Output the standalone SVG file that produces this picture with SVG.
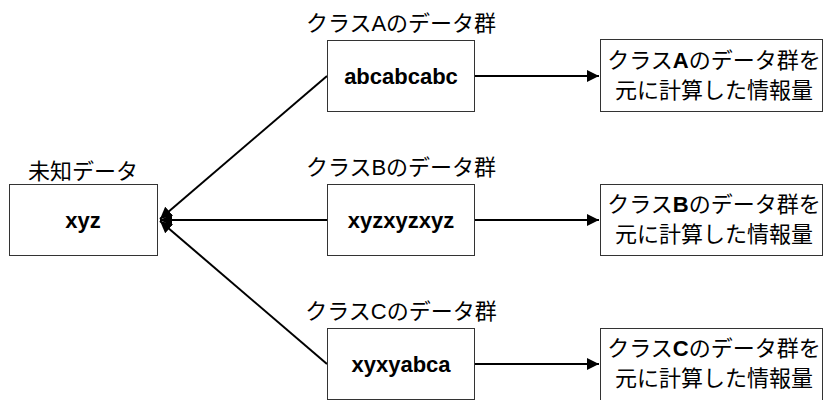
<svg xmlns="http://www.w3.org/2000/svg" width="823" height="400" viewBox="0 0 823 400">
<style>
.box{fill:#fff;stroke:#333;stroke-width:1}
.lbl{font-family:"Liberation Sans","Noto Sans CJK JP",sans-serif;font-size:22px;fill:#000;text-anchor:middle}
.val{font-family:"Liberation Sans","Noto Sans CJK JP",sans-serif;font-size:22px;font-weight:bold;fill:#000;text-anchor:middle}
.res{font-family:"Liberation Sans","Noto Sans CJK JP",sans-serif;font-size:22px;fill:#000;text-anchor:middle}
.edge{stroke:#000;stroke-width:2;fill:none}
</style>
<defs>
<marker id="ah" viewBox="0 0 10 10" refX="10" refY="5" markerWidth="6" markerHeight="6" orient="auto" markerUnits="strokeWidth">
<path d="M0,0 L10,5 L0,10 z" fill="#000"/>
</marker>
</defs>
<rect width="823" height="400" fill="#fff"/>
<g id="connectors">
<line class="edge" x1="327" y1="76" x2="160" y2="219" marker-end="url(#ah)"/>
<line class="edge" x1="327" y1="220" x2="160" y2="220" marker-end="url(#ah)"/>
<line class="edge" x1="327" y1="364" x2="160" y2="221" marker-end="url(#ah)"/>
<line class="edge" x1="475" y1="76" x2="599" y2="76" marker-end="url(#ah)"/>
<line class="edge" x1="475" y1="220" x2="599" y2="220" marker-end="url(#ah)"/>
<line class="edge" x1="475" y1="364" x2="599" y2="364" marker-end="url(#ah)"/>
</g>
<g id="unknown">
<text class="lbl" x="83" y="179">未知データ</text>
<rect class="box" x="9.5" y="184.5" width="148" height="71"/>
<text class="val" x="83" y="228">xyz</text>
</g>
<g id="classA">
<text class="lbl" x="401" y="31">クラスAのデータ群</text>
<rect class="box" x="327.5" y="40.5" width="147" height="71"/>
<text class="val" x="401" y="84">abcabcabc</text>
</g>
<g id="classB">
<text class="lbl" x="401" y="175">クラスBのデータ群</text>
<rect class="box" x="327.5" y="184.5" width="147" height="71"/>
<text class="val" x="401" y="228">xyzxyzxyz</text>
</g>
<g id="classC">
<text class="lbl" x="401" y="319">クラスCのデータ群</text>
<rect class="box" x="327.5" y="328.5" width="147" height="71"/>
<text class="val" x="401" y="372">xyxyabca</text>
</g>
<g id="resultA">
<rect class="box" x="600.5" y="39.5" width="222" height="72"/>
<text class="res" x="714" y="68">クラス<tspan font-weight="bold">A</tspan>のデータ群を</text>
<text class="res" x="714" y="98">元に計算した情報量</text>
</g>
<g id="resultB">
<rect class="box" x="600.5" y="184.5" width="222" height="71"/>
<text class="res" x="714" y="212">クラス<tspan font-weight="bold">B</tspan>のデータ群を</text>
<text class="res" x="714" y="242">元に計算した情報量</text>
</g>
<g id="resultC">
<rect class="box" x="600.5" y="328.5" width="222" height="72"/>
<text class="res" x="714" y="356">クラス<tspan font-weight="bold">C</tspan>のデータ群を</text>
<text class="res" x="714" y="386">元に計算した情報量</text>
</g>
</svg>
